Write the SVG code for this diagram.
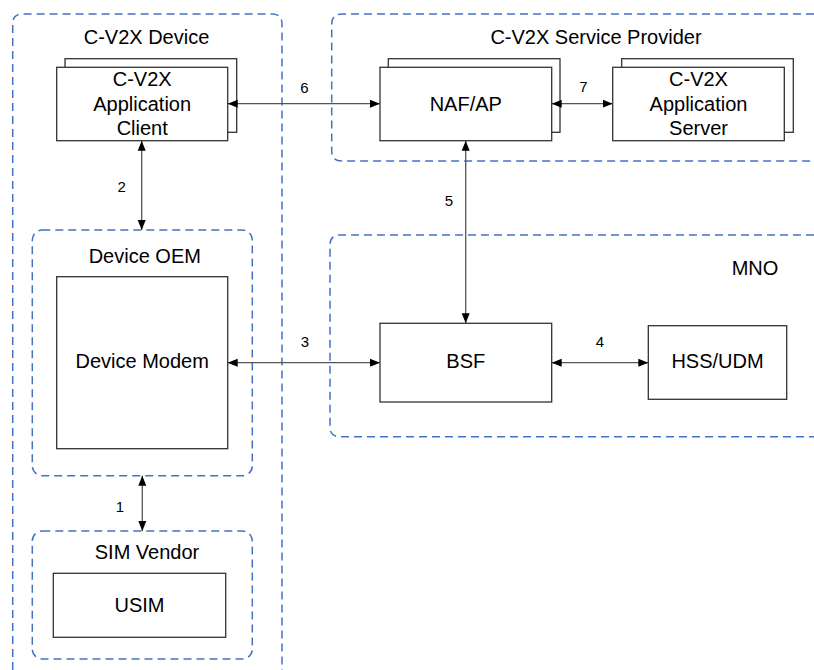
<svg xmlns="http://www.w3.org/2000/svg" width="814" height="670" viewBox="0 0 814 670">
<style>
.grp{fill:none;stroke:#4472C4;stroke-width:1.5;stroke-dasharray:8 5}
.box{fill:#fff;stroke:#333;stroke-width:1.3}
.t{font-family:"Liberation Sans",Arial,sans-serif;font-size:20px;fill:#000;text-anchor:middle}
.n{font-family:"Liberation Sans",Arial,sans-serif;font-size:15px;fill:#000;text-anchor:middle}
.c{fill:none;stroke:#555;stroke-width:1.3;marker-start:url(#ah);marker-end:url(#ah)}
</style>
<defs>
<marker id="ah" markerUnits="userSpaceOnUse" markerWidth="11" markerHeight="10" refX="10" refY="5" orient="auto-start-reverse">
<path d="M0,1 L10,5 L0,9 z" fill="#000"/>
</marker>
</defs>
<rect width="814" height="670" fill="#fff"/>
<g id="device">
<path class="grp" d="M12.7,670 V24 Q12.7,14 22.7,14 H272 Q282,14 282,24 V670"/>
<text class="t" x="146.5" y="44">C-V2X Device</text>
</g>
<g id="service-provider">
<path class="grp" d="M814,14 H341.7 Q331.7,14 331.7,24 V151 Q331.7,161 341.7,161 H814"/>
<text class="t" x="596" y="43.5">C-V2X Service Provider</text>
</g>
<g id="mno">
<path class="grp" d="M814,235 H340 Q330,235 330,245 V426.7 Q330,436.7 340,436.7 H814"/>
<text class="t" x="755" y="275">MNO</text>
</g>
<g id="device-oem">
<rect class="grp" x="32.3" y="230" width="220" height="245.7" rx="10"/>
<text class="t" x="144.8" y="262.7">Device OEM</text>
</g>
<g id="sim-vendor">
<rect class="grp" x="32.3" y="531" width="220" height="128" rx="10"/>
<text class="t" x="147" y="559">SIM Vendor</text>
</g>
<g id="app-client">
<rect class="box" x="65" y="58.7" width="171.7" height="73.6"/>
<rect class="box" x="56.7" y="67.3" width="171" height="73.4"/>
<text class="t" x="142.2" y="86">C-V2X</text>
<text class="t" x="142.2" y="110.7">Application</text>
<text class="t" x="142.2" y="135">Client</text>
</g>
<g id="naf-ap">
<rect class="box" x="388.3" y="58.7" width="171.7" height="73.6"/>
<rect class="box" x="380" y="67.3" width="171.7" height="73.4"/>
<text class="t" x="465.8" y="111">NAF/AP</text>
</g>
<g id="app-server">
<rect class="box" x="621.7" y="58.7" width="171.6" height="73.6"/>
<rect class="box" x="612.7" y="67.3" width="171.6" height="73.4"/>
<text class="t" x="698.5" y="86">C-V2X</text>
<text class="t" x="698.5" y="110.7">Application</text>
<text class="t" x="698.5" y="135">Server</text>
</g>
<g id="device-modem">
<rect class="box" x="56.7" y="276.7" width="171" height="172"/>
<text class="t" x="142.2" y="368.3">Device Modem</text>
</g>
<g id="bsf">
<rect class="box" x="380" y="323.3" width="171.7" height="78.7"/>
<text class="t" x="465.8" y="368.3">BSF</text>
</g>
<g id="hss-udm">
<rect class="box" x="648.3" y="325.7" width="138.4" height="73.6"/>
<text class="t" x="717.5" y="368.3">HSS/UDM</text>
</g>
<g id="usim">
<rect class="box" x="53.3" y="573.3" width="172.4" height="64"/>
<text class="t" x="139.5" y="611.7">USIM</text>
</g>
<g id="connectors">
<line class="c" x1="227.7" y1="103.7" x2="380" y2="103.7"/>
<line class="c" x1="551.7" y1="103.7" x2="612.7" y2="103.7"/>
<line class="c" x1="141.7" y1="140.7" x2="141.7" y2="230"/>
<line class="c" x1="465.7" y1="140.7" x2="465.7" y2="323.3"/>
<line class="c" x1="227.7" y1="362.7" x2="380" y2="362.7"/>
<line class="c" x1="551.7" y1="362.7" x2="648.3" y2="362.7"/>
<line class="c" x1="142.3" y1="475.7" x2="142.3" y2="531"/>
<text class="n" x="304.3" y="92.7">6</text>
<text class="n" x="583.3" y="91.7">7</text>
<text class="n" x="121.7" y="191.7">2</text>
<text class="n" x="449" y="206">5</text>
<text class="n" x="305" y="346.7">3</text>
<text class="n" x="600" y="346.7">4</text>
<text class="n" x="120" y="511.7">1</text>
</g>
</svg>
